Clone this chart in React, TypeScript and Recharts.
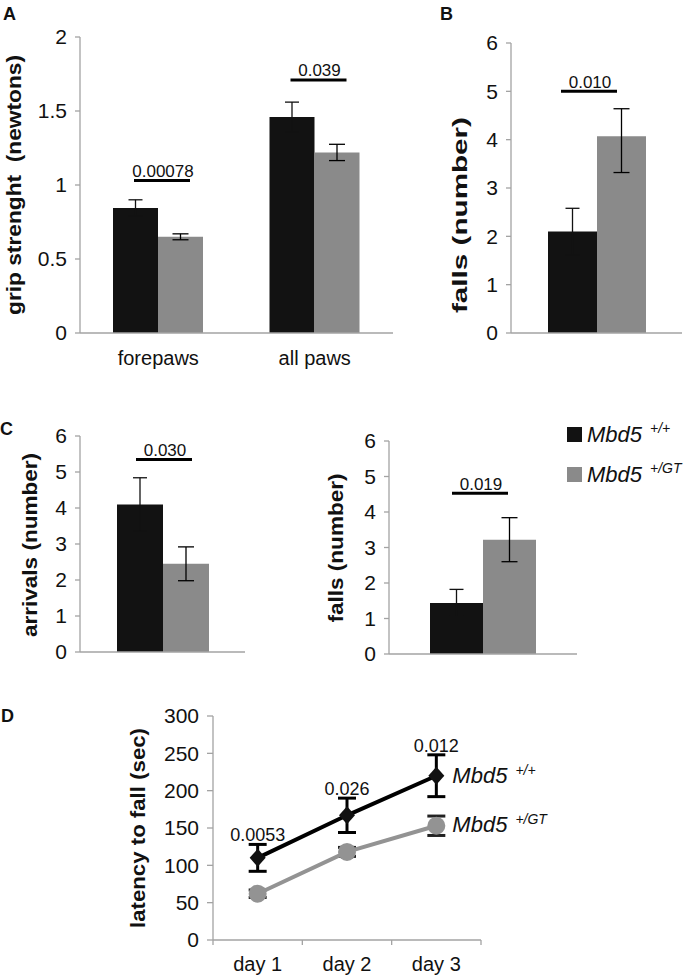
import React from 'react';
import { BarChart, Bar, XAxis, YAxis, ErrorBar, LabelList, LineChart, Line } from 'recharts';

const FONT = '"Liberation Sans", Arial, Helvetica, sans-serif';
const AXIS = '#a3a3a3';
const WT = '#121212';
const GT = '#8a8a8a';
const GT_LINE = '#939393';

// A: grip strength
const gripCats = ['forepaws', 'all paws'];
const gripWt = [0.845, 1.46];
const gripWtErr = [0.055, 0.1];
const gripGt = [0.65, 1.22];
const gripGtErr = [0.02, 0.055];
const gripSig = [1.03, 1.71];
const gripP = ['0.00078', '0.039'];
const gripTicks = [0, 0.5, 1, 1.5, 2];

// B: falls
const fallsBWt = [2.1];
const fallsBWtErr = [0.48];
const fallsBGt = [4.07];
const fallsBGtErr = [[0.75, 0.57]];
const fallsBSig = [5.0];
const fallsBP = ['0.010'];

// C: arrivals / falls
const arrWt = [4.1];
const arrWtErr = [0.74];
const arrGt = [2.45];
const arrGtErr = [0.47];
const arrSig = [5.35];
const arrP = ['0.030'];

const fallsCWt = [1.44];
const fallsCWtErr = [0.38];
const fallsCGt = [3.22];
const fallsCGtErr = [0.62];
const fallsCSig = [4.53];
const fallsCP = ['0.019'];

const countTicks = [0, 1, 2, 3, 4, 5, 6];

// D: latency to fall
const days = ['day 1', 'day 2', 'day 3'];
const latWt = [110, 167, 220];
const latWtErr = [18, 23, 28];
const latGt = [62, 118, 153];
const latGtErr = [5, 6, 13];
const latP = ['0.0053', '0.026', '0.012'];
const latTicks = [0, 50, 100, 150, 200, 250, 300];
const dayTicks = [0, 0.5, 1, 1.5, 2, 2.5, 3];

const makeRows = (cats: string[], wt: number[], wtErr: any[], gt: number[], gtErr: any[], sig: number[], p: string[]) =>
  cats.map((c, i) => ({ name: c, wt: wt[i], wtErr: wtErr[i], gt: gt[i], gtErr: gtErr[i], sig: sig[i], p: p[i] }));

const gripRows = makeRows(gripCats, gripWt, gripWtErr, gripGt, gripGtErr, gripSig, gripP);
const fallsBRows = makeRows([''], fallsBWt, fallsBWtErr, fallsBGt, fallsBGtErr, fallsBSig, fallsBP);
const arrRows = makeRows([''], arrWt, arrWtErr, arrGt, arrGtErr, arrSig, arrP);
const fallsCRows = makeRows([''], fallsCWt, fallsCWtErr, fallsCGt, fallsCGtErr, fallsCSig, fallsCP);

const latRows = days.map((d, i) => ({
  x: i + 0.5,
  day: d,
  wt: latWt[i],
  wtErr: latWtErr[i],
  gt: latGt[i],
  gtErr: latGtErr[i],
  top: latWt[i] + latWtErr[i],
  p: latP[i],
}));

// rotated bold axis title
const YTitle = ({ x, y, len, text }: any) => (
  <text
    x={x}
    y={y}
    transform={`rotate(-90 ${x} ${y})`}
    textAnchor="middle"
    fontWeight="bold"
    fontSize={21}
    fill="#111"
    textLength={len}
    lengthAdjust="spacingAndGlyphs"
  >
    {text}
  </text>
);

// significance bar + p value, placed at the sig level using the bar's own scale
const SigMark = (props: any) => {
  const { x, y, width, height, value, index, rows, shift } = props;
  const row = rows[index];
  if (!row || !value) return null;
  const base = y + height;
  const ly = base - (row.sig * height) / value;
  const cx = x + width + shift;
  return (
    <g>
      <line x1={cx - 28} x2={cx + 28} y1={ly} y2={ly} stroke="#000" strokeWidth={3} />
      <text x={cx + 1} y={ly - 3.5} textAnchor="middle" fontSize={17} fill="#111">
        {row.p}
      </text>
    </g>
  );
};

function BarPanel({ rows, ticks, left, top, width, height, margin, axisWidth, xHeight, barSize, showCats, title, sigShift }: any) {
  const max = ticks[ticks.length - 1];
  return (
    <div style={{ position: 'absolute', left, top }}>
      <BarChart width={width} height={height} data={rows} margin={margin} barGap={0} barSize={barSize}>
        <XAxis
          dataKey="name"
          height={xHeight}
          tickLine={false}
          tickSize={0}
          tickMargin={18}
          tick={showCats ? { fill: '#111', fontSize: 20 } : false}
          axisLine={{ stroke: AXIS, strokeWidth: 1.3 }}
        />
        <YAxis
          width={axisWidth}
          domain={[0, max]}
          ticks={ticks}
          interval={0}
          tickSize={5}
          tickMargin={8}
          tick={{ fill: '#111', fontSize: 21 }}
          tickLine={{ stroke: AXIS, strokeWidth: 1.3 }}
          axisLine={{ stroke: AXIS, strokeWidth: 1.3 }}
          label={{ value: title.text, content: () => <YTitle {...title} /> }}
        />
        <Bar dataKey="wt" fill={WT} isAnimationActive={false}>
          <ErrorBar dataKey="wtErr" width={7} stroke={WT} strokeWidth={1.3} direction="y" />
          <LabelList dataKey="wt" content={(p: any) => <SigMark {...p} rows={rows} shift={sigShift} />} />
        </Bar>
        <Bar dataKey="gt" fill={GT} isAnimationActive={false}>
          <ErrorBar dataKey="gtErr" width={8} stroke="#000" strokeWidth={1.3} direction="y" />
        </Bar>
      </BarChart>
    </div>
  );
}

const DayTick = ({ x, y, payload }: any) => {
  const v = payload.value;
  if (Number.isInteger(v)) {
    return <line x1={x} x2={x} y1={y} y2={y + 5} stroke={AXIS} strokeWidth={1.3} />;
  }
  return (
    <text x={x} y={y + 31} textAnchor="middle" fontSize={20} fill="#111">
      {days[Math.floor(v)]}
    </text>
  );
};

const Diamond = ({ cx, cy, index }: any) => (
  <polygon key={`d-${index}`} points={`${cx},${cy - 9} ${cx + 8},${cy} ${cx},${cy + 9} ${cx - 8},${cy}`} fill="#111" />
);

const EndLabel = ({ x, y, index, sup, dy }: any) =>
  index === days.length - 1 ? (
    <text x={x + 16} y={y + dy} fontSize={22} fontStyle="italic" fill="#111">
      Mbd5
      <tspan dx={8} dy={-8} fontSize={14} fontStyle="italic">
        {sup}
      </tspan>
    </text>
  ) : null;

function LatencyPanel() {
  return (
    <div style={{ position: 'absolute', left: 0, top: 680 }}>
      <LineChart width={600} height={299} data={latRows} margin={{ top: 36, right: 119, bottom: 0, left: 0 }}>
        <XAxis
          type="number"
          dataKey="x"
          domain={[0, 3]}
          ticks={dayTicks}
          interval={0}
          height={39}
          tickLine={false}
          tickSize={0}
          tickMargin={0}
          tick={<DayTick />}
          axisLine={{ stroke: AXIS, strokeWidth: 1.3 }}
        />
        <YAxis
          width={213}
          domain={[0, 300]}
          ticks={latTicks}
          interval={0}
          tickSize={6}
          tickMargin={8}
          tick={{ fill: '#111', fontSize: 21 }}
          tickLine={{ stroke: AXIS, strokeWidth: 1.3 }}
          axisLine={{ stroke: AXIS, strokeWidth: 1.3 }}
          label={{ value: 'latency to fall (sec)', content: () => <YTitle x={145} y={148} len={200} text="latency to fall (sec)" /> }}
        />
        <Line
          dataKey="gt"
          stroke={GT_LINE}
          strokeWidth={4}
          dot={{ r: 9, fill: GT_LINE, stroke: 'none' }}
          activeDot={false}
          isAnimationActive={false}
        >
          <ErrorBar dataKey="gtErr" width={9} stroke="#222" strokeWidth={3} direction="y" />
          <LabelList dataKey="gt" content={(p: any) => <EndLabel {...p} sup="+/GT" dy={6} />} />
        </Line>
        <Line
          dataKey="wt"
          stroke="#000"
          strokeWidth={4}
          dot={(p: any) => <Diamond key={`dm-${p.index}`} {...p} />}
          activeDot={false}
          isAnimationActive={false}
        >
          <ErrorBar dataKey="wtErr" width={9} stroke="#000" strokeWidth={3} direction="y" />
          <LabelList dataKey="wt" content={(p: any) => <EndLabel {...p} sup="+/+" dy={7} />} />
        </Line>
        <Line dataKey="top" stroke="none" dot={false} activeDot={false} isAnimationActive={false}>
          <LabelList dataKey="p" position="top" offset={3} fill="#111" fontSize={18} />
        </Line>
      </LineChart>
    </div>
  );
}

export default function App() {
  return (
    <div style={{ position: 'absolute', left: 0, top: 0, width: 685, height: 979, background: '#fff', fontFamily: FONT, overflow: 'hidden' }}>
      <BarPanel
        rows={gripRows}
        ticks={gripTicks}
        left={0}
        top={0}
        width={400}
        height={380}
        margin={{ top: 37, right: 7, bottom: 0, left: 0 }}
        axisWidth={80}
        xHeight={47}
        barSize={45}
        showCats
        sigShift={4}
        title={{ x: 21, y: 185, len: 260, text: 'grip strenght\u00a0 (newtons)' }}
      />
      <BarPanel
        rows={fallsBRows}
        ticks={countTicks}
        left={440}
        top={0}
        width={245}
        height={380}
        margin={{ top: 43, right: 3, bottom: 0, left: 0 }}
        axisWidth={71}
        xHeight={47}
        barSize={49}
        showCats={false}
        sigShift={-8}
        title={{ x: 27, y: 215, len: 196, text: 'falls (number)' }}
      />
      <BarPanel
        rows={arrRows}
        ticks={countTicks}
        left={0}
        top={380}
        width={250}
        height={300}
        margin={{ top: 56, right: 5, bottom: 0, left: 0 }}
        axisWidth={80}
        xHeight={28}
        barSize={46}
        showCats={false}
        sigShift={1}
        title={{ x: 37, y: 165, len: 184, text: 'arrivals (number)' }}
      />
      <BarPanel
        rows={fallsCRows}
        ticks={countTicks}
        left={300}
        top={380}
        width={285}
        height={300}
        margin={{ top: 61, right: 8, bottom: 0, left: 0 }}
        axisWidth={89}
        xHeight={26}
        barSize={53}
        showCats={false}
        sigShift={-3}
        title={{ x: 43, y: 168, len: 149, text: 'falls (number)' }}
      />
      <LatencyPanel />
      <svg width={685} height={979} style={{ position: 'absolute', left: 0, top: 0, pointerEvents: 'none' }}>
        <g fontWeight="bold" fontSize={18} fill="#111">
          <text x={3} y={20}>A</text>
          <text x={440} y={20}>B</text>
          <text x={0} y={435}>C</text>
          <text x={1} y={722}>D</text>
        </g>
        <g fontSize={22} fontStyle="italic" fill="#111">
          <rect x={567} y={427} width={15} height={15} fill={WT} />
          <text x={587} y={442}>
            Mbd5
            <tspan dx={8} dy={-9} fontSize={14}>+/+</tspan>
          </text>
          <rect x={567} y={467} width={15} height={15} fill={GT} />
          <text x={587} y={482}>
            Mbd5
            <tspan dx={8} dy={-9} fontSize={14}>+/GT</tspan>
          </text>
        </g>
      </svg>
    </div>
  );
}
